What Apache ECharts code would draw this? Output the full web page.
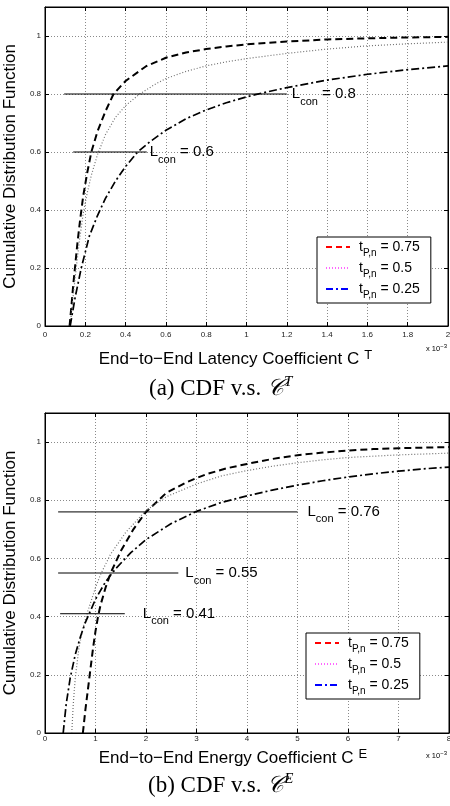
<!DOCTYPE html>
<html><head><meta charset="utf-8">
<script src="https://cdn.jsdelivr.net/npm/echarts@6/dist/echarts.min.js"></script>
<style>html,body{margin:0;padding:0;background:#fff}#c{width:450px;height:806px}</style>
</head><body><div id="c"></div>
<script>
// ---------- data (x values in units of 10^-3) ----------
const tpnNames = ['0.75', '0.5', '0.25'];

// (a) latency coefficient C^T
const lat075 = [[0.122,0],[0.13,0.06],[0.14,0.14],[0.15,0.21],[0.16,0.28],[0.175,0.37],[0.19,0.45],[0.21,0.53],[0.23,0.6],[0.26,0.67],[0.3,0.74],[0.34,0.8],[0.4,0.845],[0.5,0.895],[0.6,0.925],[0.7,0.943],[0.8,0.955],[0.9,0.964],[1.0,0.971],[1.2,0.981],[1.4,0.988],[1.6,0.992],[1.8,0.995],[2.0,0.997]];
const lat050 = [[0.125,0],[0.135,0.07],[0.15,0.17],[0.17,0.29],[0.19,0.39],[0.21,0.46],[0.23,0.52],[0.26,0.59],[0.3,0.66],[0.35,0.72],[0.4,0.76],[0.47,0.8],[0.55,0.835],[0.6,0.853],[0.7,0.878],[0.8,0.897],[0.9,0.911],[1.0,0.922],[1.2,0.94],[1.4,0.955],[1.6,0.966],[1.8,0.973],[2.0,0.979]];
const lat025 = [[0.125,0],[0.15,0.1],[0.18,0.2],[0.22,0.31],[0.26,0.38],[0.3,0.44],[0.35,0.5],[0.4,0.55],[0.46,0.6],[0.52,0.635],[0.6,0.675],[0.7,0.715],[0.8,0.745],[0.9,0.77],[1.0,0.79],[1.1,0.807],[1.2,0.822],[1.4,0.848],[1.6,0.868],[1.8,0.884],[2.0,0.897]];
const latLcon = [0.8, 0.6];
const latLconStart = [0.095, 0.14];
const latLconEnd = [1.2, 0.505];

// (b) energy coefficient C^E
const en075 = [[0.75,0],[0.8,0.08],[0.85,0.15],[0.9,0.22],[0.95,0.29],[1.0,0.35],[1.05,0.4],[1.1,0.44],[1.2,0.5],[1.3,0.55],[1.5,0.625],[1.75,0.7],[2.0,0.76],[2.4,0.825],[2.8,0.862],[3.2,0.89],[3.6,0.91],[4.0,0.925],[4.5,0.942],[5.0,0.955],[5.5,0.964],[6.0,0.971],[6.5,0.976],[7.0,0.979],[7.5,0.981],[8.0,0.983]];
const en050 = [[0.53,0],[0.56,0.1],[0.6,0.19],[0.67,0.29],[0.75,0.36],[0.85,0.42],[1.0,0.5],[1.1,0.545],[1.3,0.615],[1.6,0.69],[2.0,0.765],[2.4,0.812],[3.0,0.856],[3.5,0.884],[4.0,0.902],[4.5,0.917],[5.0,0.929],[5.5,0.939],[6.0,0.947],[7.0,0.956],[8.0,0.962]];
const en025 = [[0.36,0],[0.42,0.1],[0.5,0.19],[0.6,0.27],[0.7,0.33],[0.8,0.38],[0.9,0.42],[1.0,0.46],[1.2,0.52],[1.4,0.565],[1.7,0.62],[2.0,0.665],[2.5,0.72],[3.0,0.762],[3.5,0.793],[4.0,0.815],[4.5,0.835],[5.0,0.852],[5.5,0.867],[6.0,0.88],[6.5,0.891],[7.0,0.9],[7.5,0.908],[8.0,0.914]];
const enLcon = [0.76, 0.55, 0.41];
const enLconStart = [0.26, 0.26, 0.3];
const enLconEnd = [5.0, 2.64, 1.58];

// ---------- styling ----------
const SANS = 'Liberation Sans, Arial, Helvetica, sans-serif';
const SERIF = 'Liberation Serif, DejaVu Serif, Times New Roman, serif';
const dashStyle = {color:'#000', width:2, type:[7,4]};
const dotStyle = {color:'#707070', width:1.2, type:[1,2]};
const dashDotStyle = {color:'#000', width:1.7, type:[8,3,2,3]};
const legendColors = ['#ff0000', '#ff66ff', '#0000ff'];
const legendTypes = [[6,4], [1,2], [7,3,2,3]];

const fmtNum = v => String(+(+v).toFixed(1));
const yFmt = v => (v > 1.001 ? '' : fmtNum(v));

function xMain(gi, max, interval, name, nameGap, padR, margin) {
  return {
    type:'value', gridIndex:gi, min:0, max:max, interval:interval, position:'bottom',
    axisLine:{show:true, onZero:false, lineStyle:{color:'#000', width:1}},
    axisTick:{show:true, inside:true, length:4, lineStyle:{color:'#000'}},
    axisLabel:{fontSize:8, color:'#222', margin:margin, fontFamily:SANS, formatter:fmtNum},
    splitLine:{show:true, lineStyle:{color:'#8a8a8a', type:[1,2], width:1}},
    name:name, nameLocation:'middle', nameGap:nameGap,
    nameTextStyle:{padding:[0,padR,0,0], rich:{
      n:{fontSize:17, fontFamily:SANS, color:'#000', lineHeight:20},
      p:{fontSize:13, fontFamily:SANS, color:'#000', lineHeight:8, verticalAlign:'top', padding:[0,0,0,5]}
    }}
  };
}
function xTop(gi, max, interval) {
  return {
    type:'value', gridIndex:gi, min:0, max:max, interval:interval, position:'top',
    axisLine:{show:true, onZero:false, lineStyle:{color:'#000', width:1}},
    axisTick:{show:true, inside:true, length:4, lineStyle:{color:'#000'}},
    axisLabel:{show:false}, splitLine:{show:false}
  };
}
function yMain(gi) {
  return {
    type:'value', gridIndex:gi, min:0, max:1.1, interval:0.2, position:'left',
    axisLine:{show:true, onZero:false, lineStyle:{color:'#000', width:1}},
    axisTick:{show:true, inside:true, length:4, lineStyle:{color:'#000'}},
    axisLabel:{fontSize:8, color:'#222', margin:4, fontFamily:SANS, formatter:yFmt},
    splitLine:{show:true, lineStyle:{color:'#8a8a8a', type:[1,2], width:1}},
    name:'Cumulative Distribution Function', nameLocation:'middle', nameGap:20,
    nameTextStyle:{fontSize:17, fontFamily:SANS, color:'#000'}
  };
}
function yRight(gi) {
  return {
    type:'value', gridIndex:gi, min:0, max:1.1, interval:0.2, position:'right',
    axisLine:{show:true, onZero:false, lineStyle:{color:'#000', width:1}},
    axisTick:{show:true, inside:true, length:4, lineStyle:{color:'#000'}},
    axisLabel:{show:false}, splitLine:{show:false}
  };
}
function curve(data, style, ai) {
  return {type:'line', data:data, xAxisIndex:ai, yAxisIndex:ai, symbol:'none', showSymbol:false,
          lineStyle:style, silent:true, z:3, clip:true};
}
const lconRich = {
  l:{fontSize:15, fontFamily:SANS, color:'#000', lineHeight:26},
  s:{fontSize:11, fontFamily:SANS, color:'#000', lineHeight:8, verticalAlign:'bottom'}
};
function lconSeries(y, x0, x1, ai, dist) {
  return {type:'line', data:[[x0,y],[x1,y]], xAxisIndex:ai, yAxisIndex:ai, symbol:'none', showSymbol:false,
          silent:true, z:4, lineStyle:{color:'#000', width:1, type:'solid'},
          endLabel:{show:true, distance:dist, formatter:'{l|L}{s|con}{l| = ' + y + '}', rich:lconRich}};
}
function legendCfg(left, top) {
  return {
    data:tpnNames, orient:'vertical', left:left, top:top, itemWidth:24, itemHeight:10, itemGap:3,
    padding:[3,11,3,8], borderColor:'#000', borderWidth:1, backgroundColor:'#fff', selectedMode:false,
    itemStyle:{opacity:0},
    formatter: n => '{g| }{t|t}{s|P,n}{t| = ' + n + '}',
    textStyle:{rich:{
      g:{width:4, fontSize:14, lineHeight:22},
      t:{fontSize:14, fontFamily:SANS, color:'#000', lineHeight:22},
      s:{fontSize:10, fontFamily:SANS, color:'#000', lineHeight:4, verticalAlign:'bottom'}
    }}
  };
}

const series = [];
// legend proxies (colored icons as in the reference legend)
tpnNames.forEach((n, i) => series.push({type:'line', name:n, data:[], xAxisIndex:0, yAxisIndex:0, symbol:'none',
  color:legendColors[i], lineStyle:{color:legendColors[i], width:i===1?1.5:2, type:legendTypes[i]}}));
// (a)
series.push(curve(lat075, dashStyle, 0), curve(lat050, dotStyle, 0), curve(lat025, dashDotStyle, 0));
const latDist = [5, 3];
latLcon.forEach((v, i) => series.push(lconSeries(v, latLconStart[i], latLconEnd[i], 0, latDist[i])));
// (b)
series.push(curve(en075, dashStyle, 2), curve(en050, dotStyle, 2), curve(en025, dashDotStyle, 2));
const enDist = [10, 7, 18];
enLcon.forEach((v, i) => series.push(lconSeries(v, enLconStart[i], enLconEnd[i], 2, enDist[i])));

const capRich = {
  a:{fontSize:23, fontFamily:SERIF, color:'#000', lineHeight:28},
  c:{fontSize:23, fontFamily:SERIF, fontStyle:'italic', color:'#000', lineHeight:28},
  p:{fontSize:15, fontFamily:SERIF, fontStyle:'italic', color:'#000', lineHeight:14, verticalAlign:'top'}
};
const expRich = {
  a:{fontSize:7.5, fontFamily:SANS, color:'#222', lineHeight:12},
  b:{fontSize:6, fontFamily:SANS, color:'#222', lineHeight:6, verticalAlign:'top'}
};

const option = {
  animation:false,
  backgroundColor:'#fff',
  grid:[
    {left:45, top:7, width:403, height:319, show:true, borderColor:'#000', borderWidth:1, backgroundColor:'transparent', outerBoundsMode:'none'},
    {left:45, top:413, width:404, height:320, show:true, borderColor:'#000', borderWidth:1, backgroundColor:'transparent', outerBoundsMode:'none'}
  ],
  xAxis:[
    xMain(0, 2, 0.2, '{n|End\u2212to\u2212End Latency Coefficient C}{p|T}', 23, 22, 5),
    xTop(0, 2, 0.2),
    xMain(1, 8, 1, '{n|End\u2212to\u2212End Energy Coefficient C}{p|E}', 15, 28, 2),
    xTop(1, 8, 1)
  ],
  yAxis:[ yMain(0), yRight(0), yMain(1), yRight(1) ],
  legend:[ legendCfg(317, 237), legendCfg(306, 633) ],
  series: series,
  graphic:[
    {type:'text', x:447, y:349, style:{text:'{a|x 10}{b|\u22123}', rich:expRich, align:'right', verticalAlign:'middle'}},
    {type:'text', x:447, y:756, style:{text:'{a|x 10}{b|\u22123}', rich:expRich, align:'right', verticalAlign:'middle'}},
    {type:'text', x:149, y:389, style:{text:'{a|(a) CDF v.s. }{c|\uD835\uDC9E}{p|T}', rich:capRich, align:'left', verticalAlign:'middle'}},
    {type:'text', x:148, y:786, style:{text:'{a|(b) CDF v.s. }{c|\uD835\uDC9E}{p|E}', rich:capRich, align:'left', verticalAlign:'middle'}}
  ]
};
const chart = echarts.init(document.getElementById('c'), null, {renderer:'canvas'});
chart.setOption(option);
</script></body></html>
